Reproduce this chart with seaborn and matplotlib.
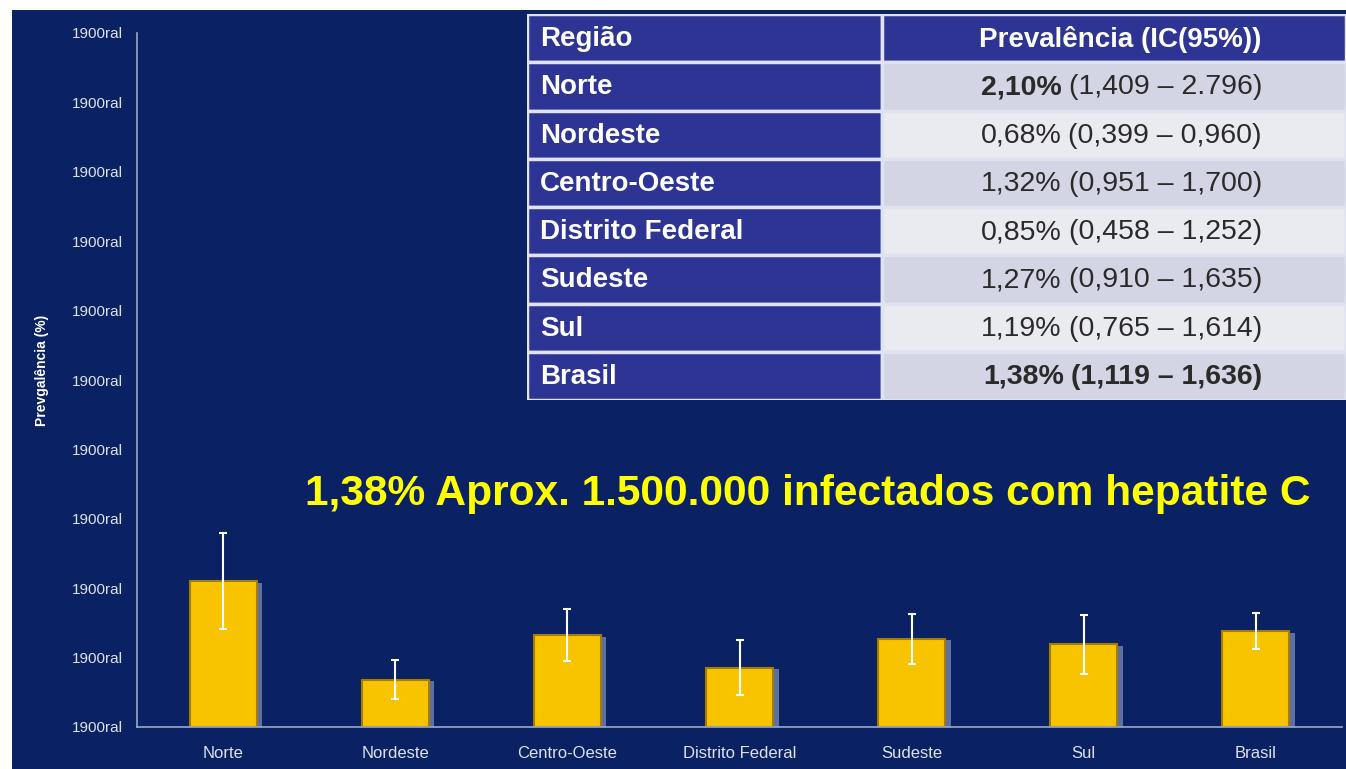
import matplotlib
matplotlib.use("Agg")
import matplotlib.pyplot as plt
import seaborn as sns
import pandas as pd
import numpy as np
from matplotlib.patches import Rectangle
import matplotlib.patheffects as pe

# ---------------- data ----------------
categories = ["Norte", "Nordeste", "Centro-Oeste", "Distrito Federal", "Sudeste", "Sul", "Brasil"]
prevalence = [2.10, 0.68, 1.32, 0.85, 1.27, 1.19, 1.38]
ci_low = [1.409, 0.399, 0.951, 0.458, 0.910, 0.765, 1.119]
ci_high = [2.796, 0.960, 1.700, 1.252, 1.635, 1.614, 1.636]
ytick_values = list(range(0, 11))
ytick_labels = ["1900ral"] * len(ytick_values)
ylabel = "Prevgalência (%)"

table_header = ["Região", "Prevalência (IC(95%))"]
table_regions = ["Norte", "Nordeste", "Centro-Oeste", "Distrito Federal", "Sudeste", "Sul", "Brasil"]
table_prev_labels = ["2,10%", "0,68%", "1,32%", "0,85%", "1,27%", "1,19%", "1,38%"]
table_ci_labels = ["(1,409 – 2.796)", "(0,399 – 0,960)", "(0,951 – 1,700)", "(0,458 – 1,252)",
                   "(0,910 – 1,635)", "(0,765 – 1,614)", "(1,119 – 1,636)"]
bold_prev = [True, False, False, False, False, False, True]
bold_ci = [False, False, False, False, False, False, True]
headline = "1,38% Aprox. 1.500.000 infectados com hepatite C"

# ---------------- style ----------------
sns.set_style("white")
plt.rcParams["font.family"] = ["Liberation Sans", "DejaVu Sans"]

W, H = 1346, 769
NAVY = "#0a2264"
TABLE_NAVY = "#2d3494"
AXIS_COL = "#9aa8cc"
TICK_TXT = "#dde1ee"

fig = plt.figure(figsize=(W / 100, H / 100), dpi=100, facecolor="white")
fig.patches.append(Rectangle((12 / W, 0), 1 - 12 / W, 1 - 10 / H, transform=fig.transFigure,
                             facecolor=NAVY, edgecolor="none", zorder=-10))

ax = fig.add_axes([137 / W, 42 / H, (1342 - 137) / W, (727 - 33) / H])
ax.set_facecolor("none")

df = pd.DataFrame({"Região": categories, "Prevalência": prevalence})
sns.barplot(data=df, x="Região", y="Prevalência", ax=ax, color="#f8c400", saturation=1,
            width=0.39, errorbar=None, edgecolor="#a07d05", linewidth=1.5)
for bar in ax.patches:
    bar.set_path_effects([pe.SimplePatchShadow(offset=(4, -1), shadow_rgbFace="#8592b8", alpha=0.7),
                          pe.Normal()])

xpos = np.arange(len(categories))
yerr = [np.array(prevalence) - np.array(ci_low), np.array(ci_high) - np.array(prevalence)]
ax.errorbar(xpos, prevalence, yerr=yerr, fmt="none", ecolor="white", elinewidth=1.5,
            capsize=3, capthick=1.5, zorder=5)

ax.set_xlim(-0.5, len(categories) - 0.5)
ax.set_ylim(0, 10)
ax.set_yticks(ytick_values)
ax.set_yticklabels(ytick_labels)
ax.set_xlabel("")
ax.set_ylabel("")
ax.set_xticks(xpos)
ax.set_xticklabels(categories)
ax.set_xticks(np.arange(0.5, len(categories), 1), minor=True)
ax.tick_params(axis="x", which="major", length=0, pad=14, labelsize=12, labelcolor=TICK_TXT)
ax.tick_params(axis="x", which="minor", length=5, width=1, color=AXIS_COL, direction="out")
ax.tick_params(axis="y", length=5, width=1, color=AXIS_COL, direction="out", pad=5,
               labelsize=11, labelcolor=TICK_TXT)
for s in ["top", "right"]:
    ax.spines[s].set_visible(False)
for s in ["left", "bottom"]:
    ax.spines[s].set_color(AXIS_COL)
    ax.spines[s].set_linewidth(1.2)

fig.text(42 / W, 1 - 370 / H, ylabel, rotation=90, ha="center", va="center",
         color="white", fontsize=10, fontweight="bold")

fig.text(305 / W, 1 - 494 / H, headline, ha="left", va="center", color="#ffff00",
         fontsize=30.6, fontweight="bold")

# ---------------- table ----------------
tx0, ty0, tx1, ty1 = 527, 14, 1346, 400
tax = fig.add_axes([tx0 / W, 1 - ty1 / H, (tx1 - tx0) / W, (ty1 - ty0) / H])
tw = tx1 - tx0
nrows = len(table_regions) + 1
tax.set_xlim(0, tw)
tax.set_ylim(nrows, 0)
tax.axis("off")
split = 882 - tx0
right_x = 1262 - tx0
line_col = "#dfe2f0"

rows_left = [table_header[0]] + table_regions
for r in range(nrows):
    tax.add_patch(Rectangle((0, r), split, 1, facecolor=TABLE_NAVY, edgecolor=line_col, lw=2.5))
    if r == 0:
        rc = TABLE_NAVY
    else:
        rc = "#d3d4e4" if r % 2 == 1 else "#eaeaf1"
    tax.add_patch(Rectangle((split, r), tw - split, 1, facecolor=rc, edgecolor=line_col, lw=2.5))
    tax.text(13, r + 0.52, rows_left[r], color="white", fontweight="bold", fontsize=20,
             ha="left", va="center")

tax.text((split + tw) / 2 + 6, 0.52, table_header[1], color="white", fontweight="bold",
         fontsize=20, ha="center", va="center")

for i in range(len(table_regions)):
    r = i + 1
    ci_t = tax.text(right_x, r + 0.52, table_ci_labels[i], color="#2a2a2a", fontsize=20.5,
                    fontweight="bold" if bold_ci[i] else "normal", ha="right", va="center")
    tax.annotate(table_prev_labels[i], xy=(0, 0), xycoords=ci_t, xytext=(-5, 0),
                 textcoords="offset points", ha="right", va="bottom", color="#2a2a2a",
                 fontsize=20.5, fontweight="bold" if bold_prev[i] else "normal")

fig.savefig("out.png", dpi=100, facecolor=fig.get_facecolor())
